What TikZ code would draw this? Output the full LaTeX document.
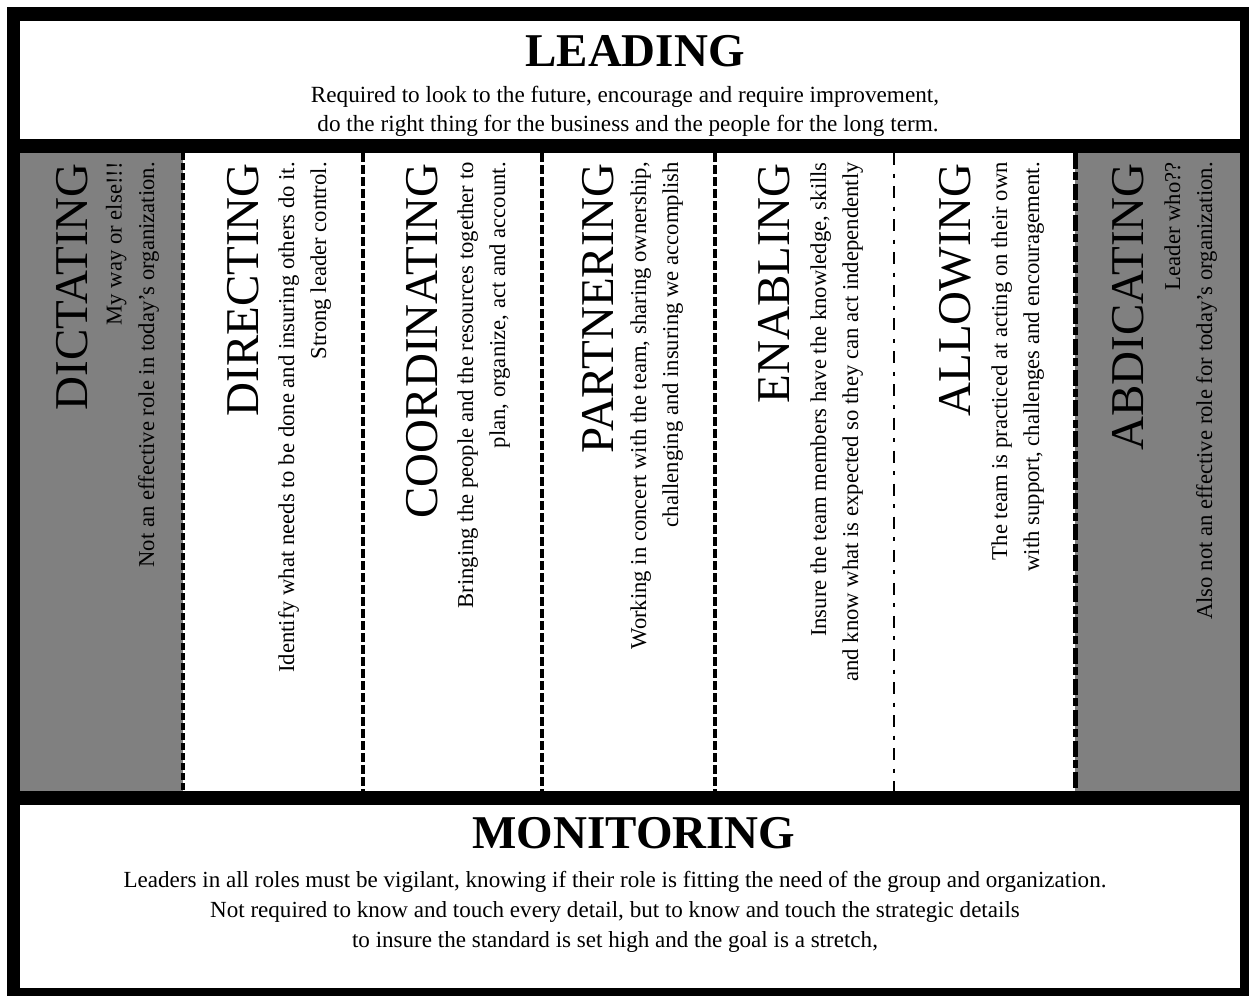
\documentclass[tikz,border=0pt]{standalone}
\usepackage{fontspec}
\setmainfont{Liberation Serif}
\definecolor{panel}{RGB}{128,128,128}
\begin{document}
\begin{tikzpicture}[x=0.75pt,y=-0.75pt,
  bandtitle/.style={inner sep=0pt,anchor=base,font=\bfseries\fontsize{35.25pt}{40pt}\selectfont},
  leadtext/.style={inner sep=0pt,anchor=base,font=\fontsize{17.4pt}{20pt}\selectfont},
  montext/.style={inner sep=0pt,anchor=base,font=\fontsize{17.3pt}{20pt}\selectfont},
  rolehead/.style={inner sep=0pt,rotate=90,anchor=base east,font=\fontsize{35.25pt}{40pt}\selectfont},
  roletext/.style={inner sep=0pt,rotate=90,anchor=base east,font=\fontsize{17pt}{20pt}\selectfont},
  divider/.style={line width=3pt},
  divA/.style={divider,dash pattern=on 5.25pt off 2.25pt},
  divB/.style={divider,dash pattern=on 6.75pt off 2.25pt},
  divC/.style={line width=1.5pt,dash pattern=on 9pt off 6.4pt on 3pt off 6.4pt},
  divD/.style={line width=3.4pt,dash pattern=on 12pt off 2.6pt on 6pt off 2.6pt}]
\useasboundingbox (0,0) rectangle (1249,996);
% frame and bands
\fill[black] (7,7) rectangle (1249,996);
\fill[white] (20,21) rectangle (1240,139);
\fill[white] (20,153) rectangle (1240,791);
\fill[white] (20,805) rectangle (1240,988);
\fill[panel] (20,153) rectangle (183,791);
\fill[panel] (1075,153) rectangle (1240,791);
% column dividers
\coordinate (d1t) at (183,153);    \coordinate (d1b) at (183,791);
\coordinate (d2t) at (363,153);    \coordinate (d2b) at (363,791);
\coordinate (d3t) at (542,153);    \coordinate (d3b) at (542,791);
\coordinate (d4t) at (715,153);    \coordinate (d4b) at (715,791);
\coordinate (d5t) at (894,153);    \coordinate (d5b) at (894,791);
\coordinate (d6t) at (1075.5,153); \coordinate (d6b) at (1075.5,791);
\draw[divA] (d1t) -- (d1b);
\draw[divB] (d2t) -- (d2b);
\draw[divB] (d3t) -- (d3b);
\draw[divB] (d4t) -- (d4b);
\draw[divC] (d5t) -- (d5b);
\draw[divD] (d6t) -- (d6b);
% top band
\node[bandtitle] (leading) at (635,66) {LEADING};
\node[leadtext] (lead1) at (625,102) {Required to look to the future, encourage and require improvement,};
\node[leadtext] (lead2) at (628,131) {do the right thing for the business and the people for the long term.};
% bottom band
\node[bandtitle] (monitoring) at (634,848) {MONITORING};
\node[montext] (mon1) at (615,887) {Leaders in all roles must be vigilant, knowing if their role is fitting the need of the group and organization.};
\node[montext] (mon2) at (615,917) {Not required to know and touch every detail, but to know and touch the strategic details};
\node[montext] (mon3) at (615,947) {to insure the standard is set high and the goal is a stretch,};
% roles
\node[rolehead] (dictT) at (87,163) {DICTATING};
\node[roletext] (dict1) at (121.5,162) {My way or else!!!};
\node[roletext] (dict2) at (154,162) {Not an effective role in today’s organization.};
\node[rolehead] (dirT) at (258,163) {DIRECTING};
\node[roletext] (dir1) at (294,162) {Identify what needs to be done and insuring others do it.};
\node[roletext] (dir2) at (326,162) {Strong leader control.};
\node[rolehead] (coordT) at (437.5,163) {COORDINATING};
\node[roletext] (coord1) at (473,162) {Bringing the people and the resources together to};
\node[roletext] (coord2) at (505,162) {plan, organize, act and account.};
\node[rolehead] (partT) at (613.5,163) {PARTNERING};
\node[roletext] (part1) at (646,162) {Working in concert with the team, sharing ownership,};
\node[roletext] (part2) at (678,162) {challenging and insuring we accomplish};
\node[rolehead] (enT) at (789.5,163) {ENABLING};
\node[roletext] (en1) at (826,162) {Insure the team members have the knowledge, skills};
\node[roletext] (en2) at (858,162) {and know what is expected so they can act independently};
\node[rolehead] (allT) at (970.5,163) {ALLOWING};
\node[roletext] (all1) at (1007,162) {The team is practiced at acting on their own};
\node[roletext] (all2) at (1039,162) {with support, challenges and encouragement.};
\node[rolehead] (abdT) at (1143.5,163) {ABDICATING};
\node[roletext] (abd1) at (1180,162) {Leader who??};
\node[roletext] (abd2) at (1212,162) {Also not an effective role for today’s organization.};
\end{tikzpicture}
\end{document}
